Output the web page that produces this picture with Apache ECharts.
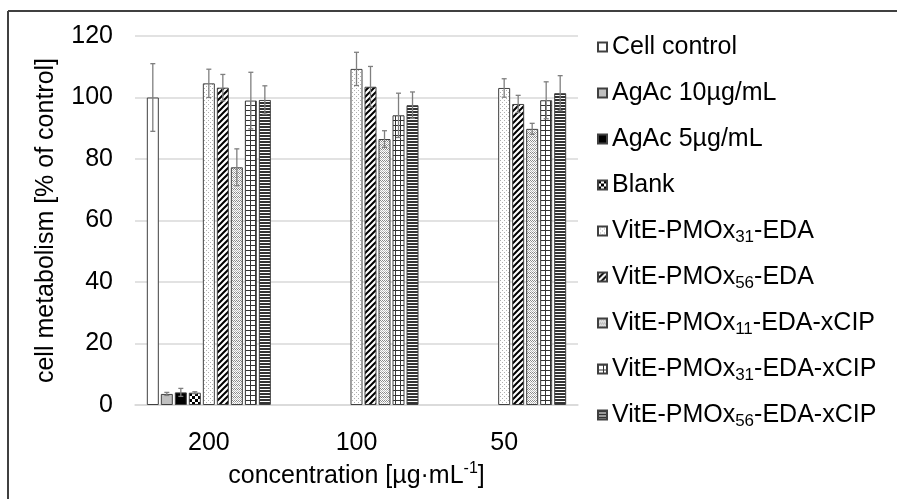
<!DOCTYPE html>
<html><head><meta charset="utf-8">
<script src="https://cdn.jsdelivr.net/npm/echarts@6/dist/echarts.min.js"></script>
<style>html,body{margin:0;padding:0;background:#fff}#c{width:897px;height:499px}</style>
</head><body><div id="c"></div>
<script>
// ---- data ----
const categories = ['200', '100', '50'];
const seriesNames = ['Cell control', 'AgAc 10µg/mL', 'AgAc 5µg/mL', 'Blank',
  'VitE-PMOx{sub|31}-EDA', 'VitE-PMOx{sub|56}-EDA', 'VitE-PMOx{sub|11}-EDA-xCIP',
  'VitE-PMOx{sub|31}-EDA-xCIP', 'VitE-PMOx{sub|56}-EDA-xCIP'];
const cellControl = [100, null, null];
const agac10 = [3.6, null, null];
const agac5 = [4.1, null, null];
const blank = [4.0, null, null];
const vit31 = [104.6, 109.3, 103.1];
const vit56 = [103.2, 103.5, 97.9];
const cip11 = [77.3, 86.5, 89.8];
const cip31 = [99.0, 94.2, 99.1];
const cip56 = [99.2, 97.5, 101.4];
const errCellControl = [11, null, null];
const errAgac10 = [0.5, null, null];
const errAgac5 = [1.3, null, null];
const errBlank = [0.3, null, null];
const errVit31 = [4.6, 5.4, 3.0];
const errVit56 = [4.3, 6.6, 2.8];
const errCip11 = [6.0, 2.7, 1.8];
const errCip31 = [9.2, 7.2, 6.0];
const errCip56 = [4.6, 4.3, 5.7];
const yTicks = {min: 0, max: 120, interval: 20};

const values = [cellControl, agac10, agac5, blank, vit31, vit56, cip11, cip31, cip56];
const errors = [errCellControl, errAgac10, errAgac5, errBlank, errVit31, errVit56, errCip11, errCip31, errCip56];

// ---- patterns ----
function pat(w, h, draw) {
  const c = document.createElement('canvas'); c.width = w; c.height = h;
  const g = c.getContext('2d'); g.fillStyle = '#fff'; g.fillRect(0, 0, w, h); draw(g);
  return {image: c, repeat: 'repeat'};
}
const fills = [
  '#ffffff',
  '#c0c0c0',
  '#000000',
  pat(6, 6, g => { g.fillStyle = '#000'; g.fillRect(0, 0, 3, 3); g.fillRect(3, 3, 3, 3); }),
  pat(4, 4, g => { g.fillStyle = '#b0b0b0'; g.fillRect(0, 0, 1, 1); g.fillRect(2, 2, 1, 1); }),
  pat(6, 6, g => { g.strokeStyle = '#000'; g.lineWidth = 2;
    g.beginPath(); g.moveTo(-1, 7); g.lineTo(7, -1); g.moveTo(-4, 4); g.lineTo(4, -4); g.moveTo(2, 10); g.lineTo(10, 2); g.stroke(); }),
  pat(4, 4, g => { g.fillStyle = '#888'; g.fillRect(0, 0, 1, 1); g.fillRect(2, 0, 1, 1); g.fillRect(1, 1, 1, 1); g.fillRect(3, 1, 1, 1);
    g.fillStyle = '#bbb'; g.fillRect(0, 2, 1, 1); g.fillRect(2, 2, 1, 1); g.fillRect(1, 3, 1, 1); g.fillRect(3, 3, 1, 1); }),
  pat(5, 5, g => { g.fillStyle = '#333'; g.fillRect(0, 0, 5, 1); g.fillRect(0, 0, 1, 5); }),
  pat(3, 3, g => { g.fillStyle = '#333'; g.fillRect(0, 0, 3, 2); })
];

const CAT_GAP = 0.16, BAR_GAP = 0.167, N = values.length;
const series = [];
values.forEach((v, i) => {
  series.push({
    name: seriesNames[i], type: 'bar', data: v,
    barCategoryGap: (CAT_GAP * 100) + '%', barGap: (BAR_GAP * 100) + '%',
    itemStyle: {color: fills[i], borderColor: '#404040', borderWidth: 1},
    emphasis: {disabled: true}
  });
});
errors.forEach((e, i) => {
  const data = [];
  e.forEach((d, k) => { if (d != null && values[i][k] != null) data.push([k, values[i][k] - d, values[i][k] + d]); });
  series.push({
    name: 'err' + i, type: 'custom', data: data, z: 5,
    encode: {x: 0, y: [1, 2]},
    renderItem: (params, api) => {
      const band = api.size([1, 0])[0];
      const total = band * (1 - CAT_GAP);
      const w = total / (N + (N - 1) * BAR_GAP);
      const cx = api.coord([api.value(0), 0])[0] - total / 2 + i * w * (1 + BAR_GAP) + w / 2;
      const lo = api.coord([api.value(0), api.value(1)])[1];
      const hi = api.coord([api.value(0), api.value(2)])[1];
      const cap = 2.5;
      const st = {stroke: '#7f7f7f', lineWidth: 1.3};
      return {type: 'group', children: [
        {type: 'line', shape: {x1: cx, y1: lo, x2: cx, y2: hi}, style: st},
        {type: 'line', shape: {x1: cx - cap, y1: hi, x2: cx + cap, y2: hi}, style: st},
        {type: 'line', shape: {x1: cx - cap, y1: lo, x2: cx + cap, y2: lo}, style: st}
      ]};
    }
  });
});

const FONT = 'Liberation Sans, Arial, sans-serif';
const chart = echarts.init(document.getElementById('c'), null, {renderer: 'canvas'});
chart.setOption({
  animation: false,
  backgroundColor: '#fff',
  grid: {left: 135, right: 319, top: 36, bottom: 94},
  xAxis: {
    type: 'category', data: categories,
    name: 'concentration [µg·mL{sup|-1}]', nameLocation: 'middle', nameGap: 55,
    nameTextStyle: {fontFamily: FONT, fontSize: 25, color: '#000',
      rich: {sup: {fontFamily: FONT, fontSize: 16, verticalAlign: 'top', lineHeight: 30}}},
    axisLine: {lineStyle: {color: '#d9d9d9', width: 1.5}},
    axisTick: {show: false},
    axisLabel: {fontFamily: FONT, fontSize: 25, color: '#000', margin: 26}
  },
  yAxis: {
    type: 'value', min: yTicks.min, max: yTicks.max, interval: yTicks.interval,
    name: 'cell metabolism [% of control]', nameLocation: 'middle', nameGap: 76,
    nameTextStyle: {fontFamily: FONT, fontSize: 25, color: '#000'},
    axisLine: {show: false}, axisTick: {show: false},
    axisLabel: {fontFamily: FONT, fontSize: 25, color: '#000', margin: 22},
    splitLine: {lineStyle: {color: '#d9d9d9', width: 1.5}}
  },
  legend: {
    orient: 'vertical', left: 592, top: 27, itemGap: 16,
    itemWidth: 9, itemHeight: 9, icon: 'rect',
    data: seriesNames,
    selectedMode: false,
    textStyle: {fontFamily: FONT, fontSize: 25, color: '#000', lineHeight: 30,
      rich: {sub: {fontFamily: FONT, fontSize: 17, lineHeight: 12, verticalAlign: 'bottom'}}}
  },
  graphic: [
    {type: 'line', shape: {x1: 8, y1: 11, x2: 897, y2: 11}, style: {stroke: '#404040', lineWidth: 2}, silent: true},
    {type: 'line', shape: {x1: 8, y1: 11, x2: 8, y2: 499}, style: {stroke: '#404040', lineWidth: 2}, silent: true}
  ],
  series: series
});
</script></body></html>
